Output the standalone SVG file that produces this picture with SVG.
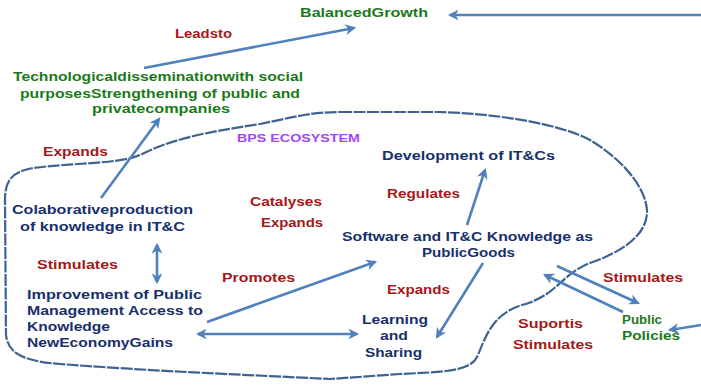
<svg xmlns="http://www.w3.org/2000/svg" width="701" height="388" viewBox="0 0 701 388">
<style>
text{font-family:"Liberation Sans",Arial,sans-serif;font-weight:bold;font-size:12.5px}
.g{fill:#1a7a1a}.r{fill:#a51818}.n{fill:#17306b}.p{fill:#a347f5}
.a{stroke:#4f81bd;stroke-width:2.6;fill:none}
.eco{stroke:#3f6391;stroke-width:2.2;fill:none;stroke-dasharray:12 1.5}
</style>
<defs>
<marker id="ah" viewBox="0 0 10 10" refX="8" refY="5" markerWidth="4.2" markerHeight="4.2" orient="auto-start-reverse">
<path d="M0,0 L10,5 L0,10 L3,5 Z" fill="#4f81bd"/>
</marker>
</defs>
<rect width="701" height="388" fill="#fff"/>
<path id="ecosystem" class="eco" d="M340,112 L440,112 C500,114 560,124 590,140 C620,158 645,185 647,210 C648,235 622,252 590,263 C560,275 558,295 522,305 C490,315 485,340 477,357 C470,372 440,372 400,374 L330,379 C250,375 150,371 60,364 C20,361 8,352 6,335 L5,200 C5,180 12,172 33,168 C70,163 120,164 140,155 C170,140 200,133 260,124 C290,118 310,112 340,112 Z"/>
<g id="connectors">
<line class="a" x1="701" y1="15" x2="450" y2="15" marker-end="url(#ah)"/>
<line class="a" x1="144" y1="68" x2="354" y2="28" marker-end="url(#ah)"/>
<line class="a" x1="101" y1="198" x2="159" y2="119" marker-end="url(#ah)"/>
<line class="a" x1="467" y1="225" x2="485" y2="170" marker-end="url(#ah)"/>
<line class="a" x1="157" y1="245" x2="157" y2="282" marker-start="url(#ah)" marker-end="url(#ah)"/>
<line class="a" x1="207" y1="322" x2="375" y2="262" marker-end="url(#ah)"/>
<line class="a" x1="198" y1="334" x2="357" y2="334" marker-start="url(#ah)" marker-end="url(#ah)"/>
<line class="a" x1="483" y1="263" x2="437" y2="337" marker-end="url(#ah)"/>
<line class="a" x1="557" y1="266" x2="638" y2="303" marker-end="url(#ah)"/>
<line class="a" x1="623" y1="312" x2="545" y2="275" marker-end="url(#ah)"/>
<line class="a" x1="701" y1="325" x2="670" y2="330" marker-end="url(#ah)"/>
</g>
<g id="labels">
<text class="r" x="175" y="38" textLength="57" lengthAdjust="spacingAndGlyphs">Leadsto</text>
<text class="r" x="43" y="156" textLength="65" lengthAdjust="spacingAndGlyphs">Expands</text>
<text class="r" x="250" y="206" textLength="72" lengthAdjust="spacingAndGlyphs">Catalyses</text>
<text class="r" x="261" y="227" textLength="62" lengthAdjust="spacingAndGlyphs">Expands</text>
<text class="r" x="387" y="198" textLength="73" lengthAdjust="spacingAndGlyphs">Regulates</text>
<text class="r" x="37" y="269" textLength="81" lengthAdjust="spacingAndGlyphs">Stimulates</text>
<text class="r" x="222" y="282" textLength="73" lengthAdjust="spacingAndGlyphs">Promotes</text>
<text class="r" x="387" y="294" textLength="63" lengthAdjust="spacingAndGlyphs">Expands</text>
<text class="r" x="603" y="282" textLength="80" lengthAdjust="spacingAndGlyphs">Stimulates</text>
<text class="r" x="518" y="328" textLength="65" lengthAdjust="spacingAndGlyphs">Suportis</text>
<text class="r" x="513" y="349" textLength="80" lengthAdjust="spacingAndGlyphs">Stimulates</text>
</g>
<g id="balanced-growth"><text class="g" x="300" y="17" textLength="128" lengthAdjust="spacingAndGlyphs">BalancedGrowth</text></g>
<g id="technological-dissemination">
<text class="g" x="13" y="81" textLength="290" lengthAdjust="spacingAndGlyphs">Technologicaldisseminationwith social</text>
<text class="g" x="20" y="98" textLength="280" lengthAdjust="spacingAndGlyphs">purposesStrengthening of public and</text>
<text class="g" x="92" y="113" textLength="138" lengthAdjust="spacingAndGlyphs">privatecompanies</text>
</g>
<g id="bps-ecosystem"><text class="p" x="237" y="142" textLength="123" lengthAdjust="spacingAndGlyphs" style="font-size:11px">BPS ECOSYSTEM</text></g>
<g id="collaborative-production">
<text class="n" x="12" y="214" textLength="181" lengthAdjust="spacingAndGlyphs">Colaborativeproduction</text>
<text class="n" x="20" y="231" textLength="165" lengthAdjust="spacingAndGlyphs">of knowledge in IT&amp;C</text>
</g>
<g id="development-itc"><text class="n" x="382" y="160" textLength="173" lengthAdjust="spacingAndGlyphs">Development of  IT&amp;Cs</text></g>
<g id="software-public-goods">
<text class="n" x="342" y="241" textLength="251" lengthAdjust="spacingAndGlyphs">Software and IT&amp;C Knowledge as</text>
<text class="n" x="422" y="257" textLength="93" lengthAdjust="spacingAndGlyphs">PublicGoods</text>
</g>
<g id="improvement-public-management">
<text class="n" x="27" y="299" textLength="175" lengthAdjust="spacingAndGlyphs">Improvement of Public</text>
<text class="n" x="27" y="315" textLength="176" lengthAdjust="spacingAndGlyphs">Management Access to</text>
<text class="n" x="27" y="331" textLength="83" lengthAdjust="spacingAndGlyphs">Knowledge</text>
<text class="n" x="27" y="347" textLength="146" lengthAdjust="spacingAndGlyphs">NewEconomyGains</text>
</g>
<g id="learning-sharing">
<text class="n" x="362" y="324" textLength="66" lengthAdjust="spacingAndGlyphs">Learning</text>
<text class="n" x="380" y="340" textLength="28" lengthAdjust="spacingAndGlyphs">and</text>
<text class="n" x="365" y="357" textLength="57" lengthAdjust="spacingAndGlyphs">Sharing</text>
</g>
<g id="public-policies">
<text class="g" x="622" y="324" style="font-size:13.5px" textLength="40" lengthAdjust="spacingAndGlyphs">Public</text>
<text class="g" x="622" y="340" textLength="58" lengthAdjust="spacingAndGlyphs">Policies</text>
</g>
</svg>
